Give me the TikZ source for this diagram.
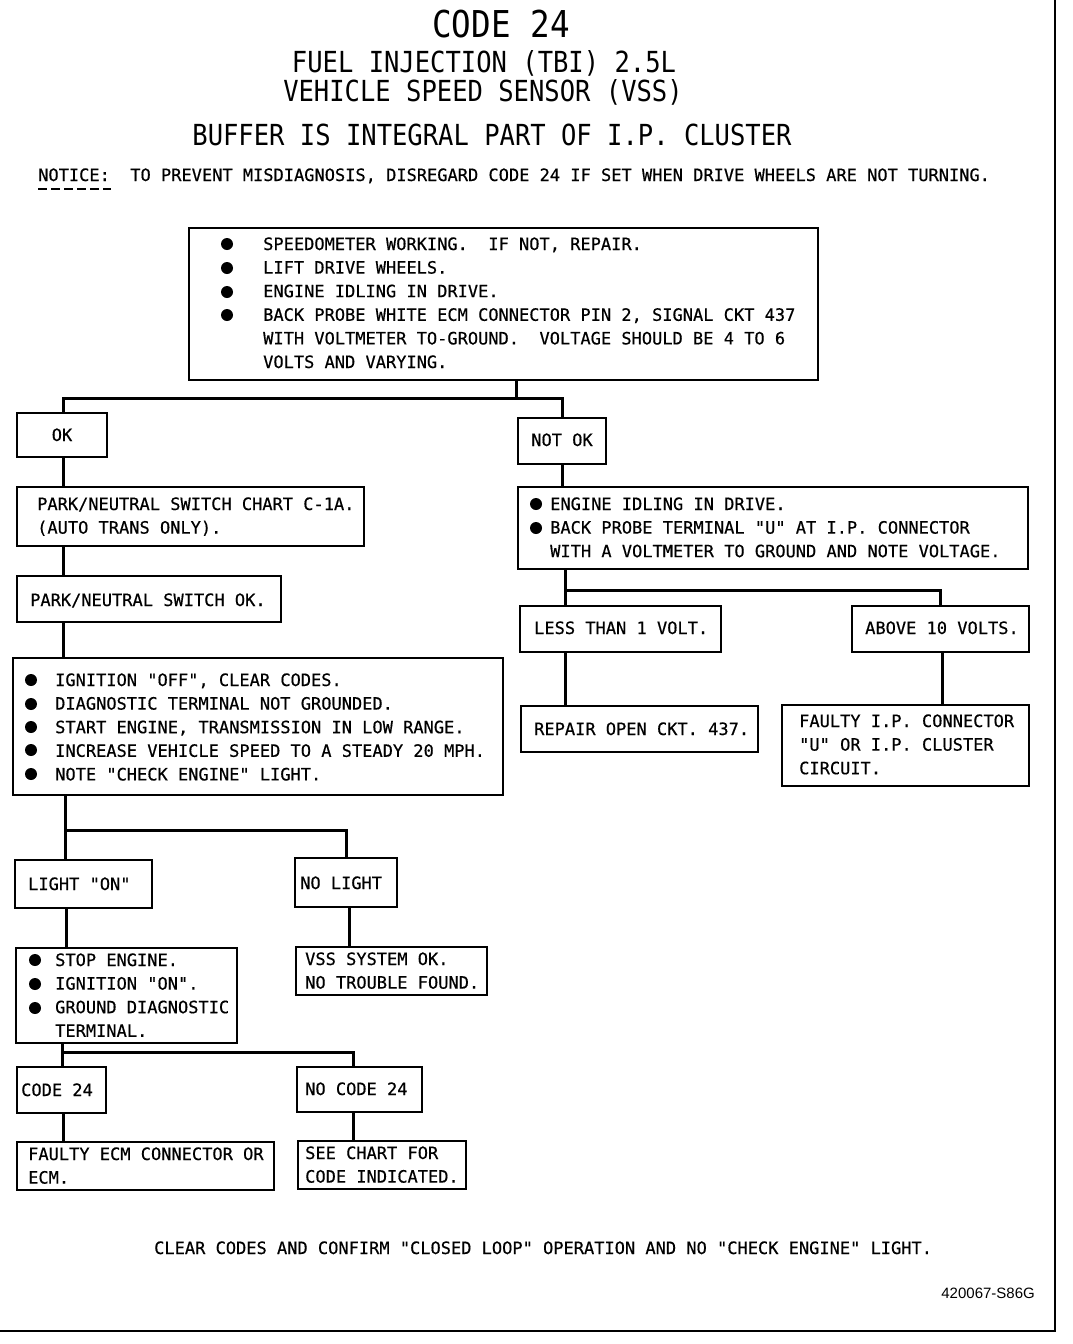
\documentclass[tikz,border=0pt]{standalone}
\usepackage{fontspec}
\newfontfamily\monof[FakeBold=0.5]{DejaVu Sans Mono}
\newfontfamily\titlef[FakeStretch=0.88]{DejaVu Sans Mono}
\newfontfamily\helvf{Liberation Sans}
\tikzset{
  box/.style={draw, line width=1.8pt, inner sep=0pt, outer sep=0pt, anchor=north west},
  conn/.style={line width=3pt},
  frame/.style={line width=2pt},
  dot/.style={circle, fill, inner sep=0pt, minimum size=12pt},
  txt/.style={inner sep=0pt, anchor=base west, font=\monof\fontsize{17}{23.6}\selectfont},
  ttl/.style={inner sep=0pt, anchor=base, font=\titlef\fontsize{29}{32}\selectfont},
}
\newcommand\bx[5]{\node[box, minimum width={#4-#2}, minimum height={#5-#3}] (#1) at (#2,#3) {};}
\newcommand\lns[1]{\begin{tabular}[t]{@{}l@{}}#1\end{tabular}}
\begin{document}
\begin{tikzpicture}[x=1pt,y=-1pt]
\useasboundingbox (0,0) rectangle (1072,1344);
% frame
\coordinate (fr1) at (0,1331);
\coordinate (fr2) at (1055,1331);
\coordinate (fr3) at (1055,0);
\draw[frame] (fr1) -- (fr2) -- (fr3);
% titles
\node[ttl, font=\titlef\fontsize{37}{40}\selectfont] (h1) at (501,37) {CODE 24};
\node[ttl] (h2) at (484,72) {FUEL INJECTION (TBI) 2.5L};
\node[ttl] (h3) at (483,101) {VEHICLE SPEED SENSOR (VSS)};
\node[ttl] (h4) at (492,145) {BUFFER IS INTEGRAL PART OF I.P. CLUSTER};
\node[txt] (notice) at (38,181) {NOTICE:\ \ TO PREVENT MISDIAGNOSIS, DISREGARD CODE 24 IF SET WHEN DRIVE WHEELS ARE NOT TURNING.};
\coordinate (u1) at (38,189);
\coordinate (u2) at (111,189);
\draw[line width=2.5pt, dash pattern=on 9pt off 4pt] (u1) -- (u2);
% boxes
\bx{top}{189}{228}{818}{380}
\bx{ok}{17}{413}{107}{457}
\bx{notok}{518}{418}{606}{464}
\bx{pchart}{17}{487}{364}{546}
\bx{pok}{17}{576}{281}{622}
\bx{big}{13}{658}{503}{795}
\bx{lon}{15}{860}{152}{908}
\bx{nolight}{295}{858}{397}{907}
\bx{stop}{16}{948}{237}{1043}
\bx{vss}{296}{947}{487}{995}
\bx{code}{17}{1067}{106}{1113}
\bx{nocode}{297}{1067}{422}{1112}
\bx{fecm}{17}{1142}{274}{1190}
\bx{see}{298}{1141}{466}{1189}
\bx{eng}{518}{487}{1028}{569}
\bx{less}{520}{606}{721}{652}
\bx{above}{852}{606}{1029}{652}
\bx{repair}{521}{706}{758}{752}
\bx{fip}{782}{705}{1029}{786}
% bullets
\foreach \y [count=\i] in {244,268,292,315} {\node[dot] (tb\i) at (227,\y) {};}
\foreach \y [count=\i] in {680,704,727,750,774} {\node[dot] (bb\i) at (31,\y) {};}
\foreach \y [count=\i] in {960,984,1008} {\node[dot] (sb\i) at (35,\y) {};}
\foreach \y [count=\i] in {504,528} {\node[dot] (eb\i) at (536,\y) {};}
% texts
\node[txt] (ttop) at (263,250) {\lns{SPEEDOMETER WORKING.\ \ IF NOT, REPAIR.\\LIFT DRIVE WHEELS.\\ENGINE IDLING IN DRIVE.\\BACK PROBE WHITE ECM CONNECTOR PIN 2, SIGNAL CKT 437\\WITH VOLTMETER TO-GROUND.\ \ VOLTAGE SHOULD BE 4 TO 6\\VOLTS AND VARYING.}};
\node[txt, anchor=base] (tok) at (62,441) {OK};
\node[txt, anchor=base] (tnotok) at (562,446) {NOT OK};
\node[txt] (tpchart) at (37,510) {\lns{PARK/NEUTRAL SWITCH CHART C-1A.\\(AUTO TRANS ONLY).}};
\node[txt] (tpok) at (30,606) {PARK/NEUTRAL SWITCH OK.};
\node[txt] (tbig) at (55,686) {\lns{IGNITION "OFF", CLEAR CODES.\\DIAGNOSTIC TERMINAL NOT GROUNDED.\\START ENGINE, TRANSMISSION IN LOW RANGE.\\INCREASE VEHICLE SPEED TO A STEADY 20 MPH.\\NOTE "CHECK ENGINE" LIGHT.}};
\node[txt] (tlon) at (28,890) {LIGHT "ON"};
\node[txt] (tnolight) at (300,889) {NO LIGHT};
\node[txt] (tstop) at (55,966) {\lns{STOP ENGINE.\\IGNITION "ON".\\GROUND DIAGNOSTIC\\TERMINAL.}};
\node[txt] (tvss) at (305,965) {\lns{VSS SYSTEM OK.\\NO TROUBLE FOUND.}};
\node[txt] (tcode) at (21,1096) {CODE 24};
\node[txt] (tnocode) at (305,1095) {NO CODE 24};
\node[txt] (tfecm) at (28,1160) {\lns{FAULTY ECM CONNECTOR OR\\ECM.}};
\node[txt] (tsee) at (305,1159) {\lns{SEE CHART FOR\\CODE INDICATED.}};
\node[txt] (teng) at (550,510) {\lns{ENGINE IDLING IN DRIVE.\\BACK PROBE TERMINAL "U" AT I.P. CONNECTOR\\WITH A VOLTMETER TO GROUND AND NOTE VOLTAGE.}};
\node[txt] (tless) at (534,634) {LESS THAN 1 VOLT.};
\node[txt] (tabove) at (865,634) {ABOVE 10 VOLTS.};
\node[txt] (trepair) at (534,735) {REPAIR OPEN CKT. 437.};
\node[txt] (tfip) at (799,727) {\lns{FAULTY I.P. CONNECTOR\\"U" OR I.P. CLUSTER\\CIRCUIT.}};
\node[txt] (tclear) at (154,1254) {CLEAR CODES AND CONFIRM "CLOSED LOOP" OPERATION AND NO "CHECK ENGINE" LIGHT.};
\node[inner sep=0pt, anchor=base east, font=\helvf\fontsize{15}{18}\selectfont] (tref) at (1035,1298) {420067-S86G};
% connectors
\coordinate (j1) at (516,398);
\draw[conn] (top.south -| j1) -- (j1);
\draw[conn] (ok.north -| 63,0) |- (j1) -| (notok.north);
\draw[conn] (ok.south -| 63,0) -- (pchart.north -| 63,0);
\draw[conn] (pchart.south -| 63,0) -- (pok.north -| 63,0);
\draw[conn] (pok.south -| 63,0) -- (big.north -| 63,0);
\coordinate (j4) at (65,830);
\draw[conn] (big.south -| j4) -- (j4) -| (nolight.north);
\draw[conn] (j4) -- (lon.north -| j4);
\draw[conn] (lon.south -| 66,0) -- (stop.north -| 66,0);
\draw[conn] (nolight.south -| 349,0) -- (vss.north -| 349,0);
\coordinate (j5) at (62,1052);
\draw[conn] (stop.south -| j5) -- (j5) -| (nocode.north -| 353,0);
\draw[conn] (j5) -- (code.north -| j5);
\draw[conn] (code.south -| 63,0) -- (fecm.north -| 63,0);
\draw[conn] (nocode.south -| 353,0) -- (see.north -| 353,0);
\draw[conn] (notok.south) -- (eng.north -| notok.south);
\coordinate (j3) at (565,590);
\draw[conn] (eng.south -| j3) -- (j3) -| (above.north -| 940,0);
\draw[conn] (j3) -- (less.north -| j3);
\draw[conn] (less.south -| j3) -- (repair.north -| j3);
\draw[conn] (above.south -| 942,0) -- (fip.north -| 942,0);
\end{tikzpicture}
\end{document}
